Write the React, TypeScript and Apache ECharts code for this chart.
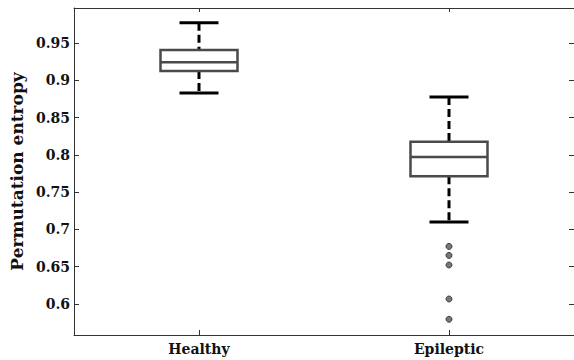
import React, { useEffect, useRef } from "react";
import * as echarts from "echarts";

const categories = ["Healthy", "Epileptic"];
// [lower whisker, q1, median, q3, upper whisker]
const healthyBox = [0.883, 0.9125, 0.924, 0.9406, 0.977];
const epilepticBox = [0.7098, 0.7714, 0.797, 0.8174, 0.8776];
const epilepticOutliers = [0.6772, 0.6651, 0.6523, 0.6067, 0.5795];
const yTicks = [0.6, 0.65, 0.7, 0.75, 0.8, 0.85, 0.9, 0.95];
const yMin = 0.5584;
const yMax = 0.9969;

const FONT = "'DejaVu Serif', serif";

export default function App() {
  const ref = useRef<HTMLDivElement>(null);
  useEffect(() => {
    if (!ref.current) return;
    const chart = echarts.init(ref.current, null, { renderer: "svg" });
    const boxData = [
      [0, ...healthyBox],
      [1, ...epilepticBox],
    ];
    const outlierData = epilepticOutliers.map((v) => [1, v]);
    const tickLabel = (v: number) => String(parseFloat(v.toFixed(2)));
    chart.setOption({
      animation: false,
      backgroundColor: "#fff",
      grid: { left: 72, top: 8, width: 504, bottom: 25, containLabel: false },
      xAxis: [
        {
          type: "category",
          data: categories,
          position: "bottom",
          axisLine: { show: true, lineStyle: { color: "#333", width: 1 } },
          axisTick: { show: true, inside: true, length: 5, alignWithLabel: true, lineStyle: { color: "#333" } },
          axisLabel: { color: "#111", fontFamily: FONT, fontWeight: "bold", fontSize: 14, margin: 7 },
          splitLine: { show: false },
        },
        {
          type: "category",
          data: categories,
          position: "top",
          axisLine: { show: true, lineStyle: { color: "#333", width: 1 } },
          axisTick: { show: true, inside: true, length: 4, alignWithLabel: true, lineStyle: { color: "#333" } },
          axisLabel: { show: false },
          splitLine: { show: false },
        },
      ],
      yAxis: [
        {
          type: "value",
          min: yMin,
          max: yMax,
          position: "left",
          name: "Permutation entropy",
          nameLocation: "middle",
          nameGap: 43,
          nameTextStyle: { color: "#111", fontFamily: FONT, fontWeight: "bold", fontSize: 17 },
          axisLine: { show: true, lineStyle: { color: "#333", width: 1 } },
          axisTick: { show: true, inside: true, length: 5, customValues: yTicks, lineStyle: { color: "#333" } },
          axisLabel: {
            customValues: yTicks,
            formatter: tickLabel,
            color: "#111",
            fontFamily: FONT,
            fontWeight: "bold",
            fontSize: 14,
            margin: 4,
          },
          splitLine: { show: false },
        },
        {
          type: "value",
          min: yMin,
          max: yMax,
          position: "right",
          axisLine: { show: false },
          axisTick: { show: true, inside: true, length: 5, customValues: yTicks, lineStyle: { color: "#333" } },
          axisLabel: { show: false, customValues: yTicks },
          splitLine: { show: false },
        },
      ],
      series: [
        {
          type: "custom",
          xAxisIndex: 0,
          yAxisIndex: 0,
          data: boxData,
          encode: { x: 0, y: [1, 2, 3, 4, 5] },
          renderItem: (params: any, api: any) => {
            const xi = api.value(0);
            const lo = api.coord([xi, api.value(1)]);
            const q1 = api.coord([xi, api.value(2)]);
            const md = api.coord([xi, api.value(3)]);
            const q3 = api.coord([xi, api.value(4)]);
            const hi = api.coord([xi, api.value(5)]);
            const cx = lo[0];
            const bw = 77;
            const cw = 39;
            const whisk = { stroke: "#000", lineWidth: 3, lineDash: [8, 4] };
            const solid = { stroke: "#000", lineWidth: 3 };
            const boxStyle = { stroke: "#4a4a4a", lineWidth: 2.5, fill: "none" };
            return {
              type: "group",
              children: [
                { type: "line", shape: { x1: cx, y1: hi[1], x2: cx, y2: q3[1] }, style: whisk },
                { type: "line", shape: { x1: cx, y1: q1[1], x2: cx, y2: lo[1] }, style: whisk },
                { type: "line", shape: { x1: cx - cw / 2, y1: hi[1], x2: cx + cw / 2, y2: hi[1] }, style: solid },
                { type: "line", shape: { x1: cx - cw / 2, y1: lo[1], x2: cx + cw / 2, y2: lo[1] }, style: solid },
                {
                  type: "rect",
                  shape: { x: cx - bw / 2, y: q3[1], width: bw, height: q1[1] - q3[1] },
                  style: boxStyle,
                },
                {
                  type: "line",
                  shape: { x1: cx - bw / 2, y1: md[1], x2: cx + bw / 2, y2: md[1] },
                  style: { stroke: "#4a4a4a", lineWidth: 2.5 },
                },
              ],
            };
          },
        },
        {
          type: "scatter",
          xAxisIndex: 0,
          yAxisIndex: 0,
          data: outlierData,
          symbol: "circle",
          symbolSize: 6,
          itemStyle: { color: "#555", borderColor: "#222", borderWidth: 1 },
        },
      ],
    });
    return () => chart.dispose();
  }, []);
  return <div ref={ref} style={{ width: 574, height: 360, position: "fixed", left: 0, top: 0 }} />;
}
